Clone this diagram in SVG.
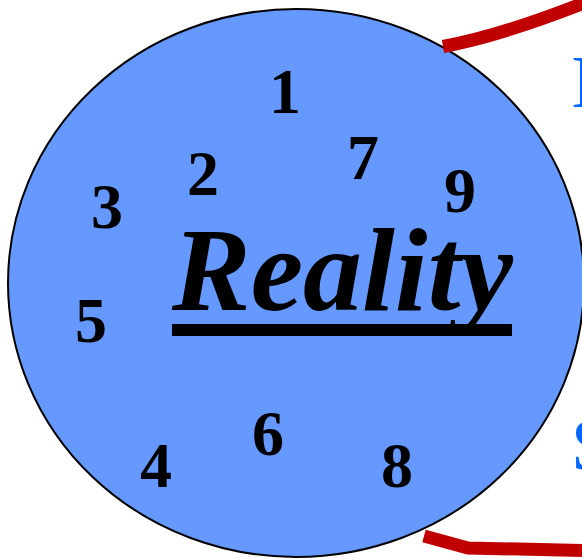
<svg xmlns="http://www.w3.org/2000/svg" width="582" height="558" viewBox="0 0 582 558">
  <style>
    .num { font-family: "Liberation Serif", "Times New Roman", serif; font-weight: bold; font-size: 64px; fill: #000; text-anchor: middle; }
    .title { font-family: "Liberation Serif", "Times New Roman", serif; font-weight: bold; font-style: italic; font-size: 118px; fill: #000; }
    .side { font-family: "Liberation Serif", "Times New Roman", serif; font-size: 75px; fill: #0066FF; }
    .red { fill: none; stroke: #C00000; stroke-width: 13; stroke-linejoin: miter; }
  </style>
  <rect width="582" height="558" fill="#FFFFFF"/>
  <g id="side-text">
    <text class="side" x="571" y="107">I</text>
    <text class="side" x="571" y="470">S</text>
  </g>
  <g id="reality">
    <ellipse cx="296" cy="283" rx="288" ry="274" fill="#6699FF" stroke="#000" stroke-width="2"/>
    <text class="title" x="172" y="310">Reality</text>
    <rect x="172" y="324" width="340" height="12" fill="#000"/>
  </g>
  <g id="numbers">
    <text class="num" x="285" y="113">1</text>
    <text class="num" x="203" y="195">2</text>
    <text class="num" x="107" y="228">3</text>
    <text class="num" x="363" y="179">7</text>
    <text class="num" x="460" y="212">9</text>
    <text class="num" x="91" y="342">5</text>
    <text class="num" x="156" y="487">4</text>
    <text class="num" x="268" y="455">6</text>
    <text class="num" x="397" y="487">8</text>
  </g>
  <g id="connectors">
    <path class="red" d="M443,46.5 Q500,36 584,3"/>
    <path class="red" d="M424,536 L468,548 L584,550.5"/>
  </g>
</svg>
